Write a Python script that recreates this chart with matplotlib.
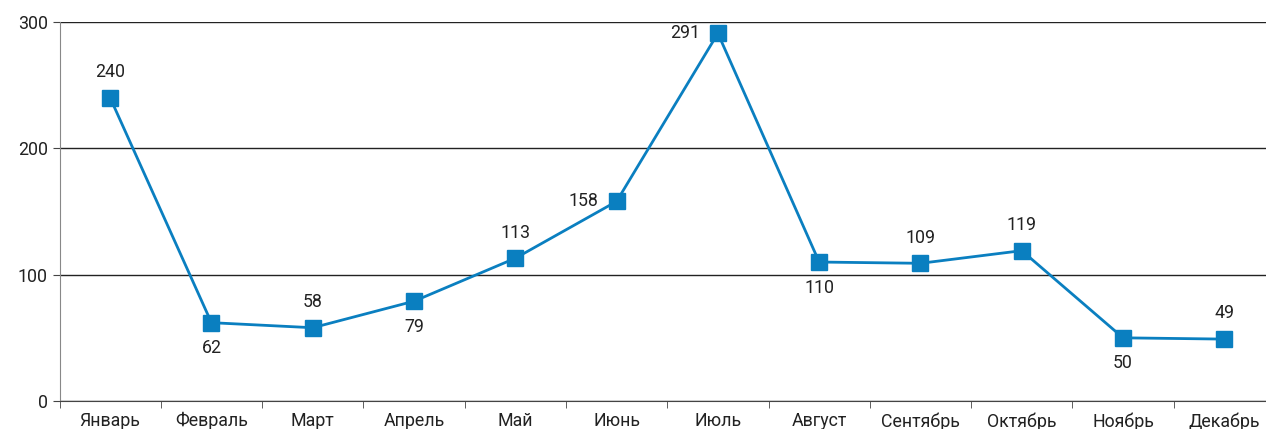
import matplotlib.pyplot as plt

plt.rcParams['font.family'] = ['Roboto', 'DejaVu Sans']

months = ['Январь', 'Февраль', 'Март', 'Апрель', 'Май', 'Июнь',
          'Июль', 'Август', 'Сентябрь', 'Октябрь', 'Ноябрь', 'Декабрь']
values = [240, 62, 58, 79, 113, 158, 291, 110, 109, 119, 50, 49]
label_pos = ['above', 'below', 'above', 'below', 'above', 'left',
             'left', 'below', 'above', 'above', 'below', 'above']

BLUE = '#0a7fc0'
FS = 12.8

fig = plt.figure(figsize=(12.66, 4.29), dpi=100)
ax = fig.add_axes([59.5 / 1266, 28 / 429, 1215.5 / 1266, 379 / 429])

x = list(range(len(months)))
ax.plot(x, values, color=BLUE, lw=2, marker='s', markersize=11.5, zorder=3)

for xi, v, pos in zip(x, values, label_pos):
    if pos == 'above':
        ax.annotate(str(v), (xi, v), xytext=(0, 12), textcoords='offset points',
                    ha='center', va='bottom', fontsize=FS, color='#222222')
    elif pos == 'below':
        ax.annotate(str(v), (xi, v), xytext=(0, -12), textcoords='offset points',
                    ha='center', va='top', fontsize=FS, color='#222222')
    else:
        ax.annotate(str(v), (xi, v), xytext=(-13, 0), textcoords='offset points',
                    ha='right', va='center', fontsize=FS, color='#222222')

ax.set_xlim(-0.5, 11.5)
ax.set_ylim(0, 300)
ax.set_yticks([0, 100, 200, 300])
ax.set_xticks(x)
ax.set_xticklabels(months, fontsize=FS, color='#222222')
ax.set_xticks([i + 0.5 for i in range(-1, 12)], minor=True)
ax.tick_params(axis='x', which='major', length=0, pad=8)
ax.tick_params(axis='x', which='minor', length=5, color='#444444')
ax.tick_params(axis='y', length=5, labelsize=FS, colors='#444444', labelcolor='#222222')

ax.grid(axis='y', color='#222222', lw=1)
ax.set_axisbelow(True)
for s in ['top', 'right']:
    ax.spines[s].set_visible(False)
ax.spines['left'].set_color('#888888')
ax.spines['bottom'].set_color('#444444')

fig.savefig('out.png', dpi=100)
